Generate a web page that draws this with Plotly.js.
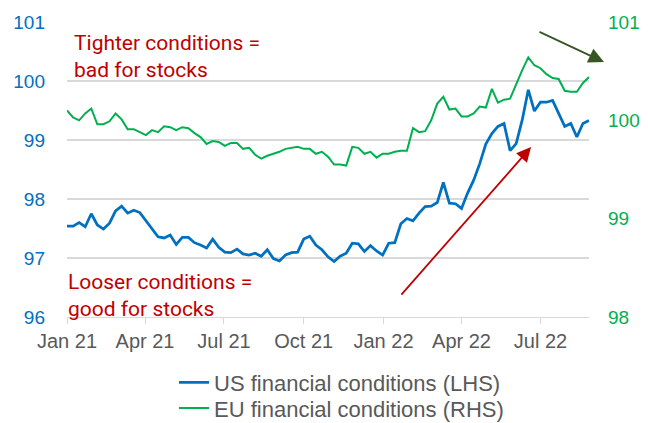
<!DOCTYPE html>
<html>
<head>
<meta charset="utf-8">
<script src="https://cdn.plot.ly/plotly-3.0.1.min.js"></script>
<style>html,body{margin:0;padding:0;background:#fff;}#chart{width:648px;height:423px;}</style>
</head>
<body>
<div id="chart"></div>
<script>
// Weekly observations (Fridays) starting 1 Jan 2021
var startDate = '2021-01-01';
var usFinancialConditions = [
  97.54, 97.54, 97.60, 97.53, 97.75, 97.56, 97.49, 97.59, 97.80, 97.88,
  97.76, 97.81, 97.77, 97.64, 97.49, 97.36, 97.34, 97.39, 97.23, 97.35,
  97.35, 97.26, 97.22, 97.17, 97.32, 97.18, 97.10, 97.09, 97.15, 97.07,
  97.05, 97.08, 97.03, 97.14, 96.99, 96.95, 97.05, 97.09, 97.10, 97.32,
  97.37, 97.22, 97.14, 97.02,
  96.94, 97.03, 97.08, 97.25, 97.24, 97.11, 97.21, 97.12, 97.05, 97.25,
  97.26, 97.58, 97.67, 97.63, 97.76, 97.87, 97.88, 97.94, 98.28, 97.93,
  97.92, 97.84, 98.10, 98.32, 98.60, 98.93, 99.11, 99.23, 99.28, 98.82,
  98.94, 99.34, 99.85, 99.49, 99.64, 99.64, 99.67, 99.45, 99.23, 99.28,
  99.05, 99.28, 99.33
];
var euFinancialConditions = [
  100.10, 100.03, 100.00, 100.07, 100.12, 99.96, 99.96, 99.99, 100.07, 100.01,
  99.91, 99.91, 99.88, 99.85, 99.90, 99.88, 99.94, 99.93, 99.90, 99.93,
  99.92, 99.87, 99.83, 99.76, 99.79, 99.78, 99.74, 99.77, 99.77, 99.71,
  99.72, 99.65, 99.61, 99.64, 99.66, 99.68, 99.71, 99.72, 99.73, 99.71,
  99.71, 99.66, 99.68, 99.63,
  99.55, 99.55, 99.54, 99.73, 99.72, 99.66, 99.68, 99.62, 99.66, 99.66,
  99.68, 99.69, 99.69, 99.92, 99.88, 99.89, 100.00, 100.17, 100.24, 100.11,
  100.12, 100.04, 100.04, 100.07, 100.14, 100.13, 100.32, 100.18, 100.21, 100.22,
  100.37, 100.51, 100.64, 100.56, 100.53, 100.47, 100.43, 100.42, 100.30, 100.29,
  100.29, 100.38, 100.44
];
var seriesNames = ['US financial conditions (LHS)', 'EU financial conditions (RHS)'];
var leftTicks = [96, 97, 98, 99, 100, 101];
var rightTicks = [98, 99, 100, 101];
var xTickLabels = ['Jan 21', 'Apr 21', 'Jul 21', 'Oct 21', 'Jan 22', 'Apr 22', 'Jul 22'];
var xTickDates = ['2021-01-01', '2021-04-01', '2021-07-01', '2021-10-01', '2022-01-01', '2022-04-01', '2022-07-01'];

function weeklyDates(start, n) {
  var out = [];
  var d0 = new Date(start + 'T00:00:00Z');
  for (var i = 0; i < n; i++) {
    var d = new Date(d0.getTime() + i * 7 * 86400000);
    out.push(d.toISOString().slice(0, 10));
  }
  return out;
}
var dates = weeklyDates(startDate, usFinancialConditions.length);

var traces = [
  {x: dates, y: usFinancialConditions, name: seriesNames[0], type: 'scatter', mode: 'lines',
   line: {color: '#0070C0', width: 2.75}, yaxis: 'y', legend: 'legend'},
  {x: dates, y: euFinancialConditions, name: seriesNames[1], type: 'scatter', mode: 'lines',
   line: {color: '#00B050', width: 2}, yaxis: 'y2', legend: 'legend2'}
];

var annFont = {family: 'Roboto, sans-serif', size: 21, color: '#C00000'};
var legFont = {family: 'Liberation Sans, Arial, sans-serif', size: 22, color: '#595959'};
var layout = {
  width: 648, height: 423,
  margin: {l: 67, r: 59, t: 22, b: 106, pad: 0, autoexpand: false},
  paper_bgcolor: '#ffffff', plot_bgcolor: '#ffffff',
  showlegend: true,
  xaxis: {
    type: 'date',
    range: [dates[0], dates[dates.length - 1]],
    tickvals: xTickDates, ticktext: xTickLabels,
    ticks: 'outside', ticklen: 6, tickcolor: '#D9D9D9', tickwidth: 1,
    showgrid: false, showline: true, linecolor: '#D9D9D9', linewidth: 1,
    zeroline: false,
    tickfont: {family: 'Liberation Sans, Arial, sans-serif', size: 20, color: '#595959'}
  },
  yaxis: {
    range: [96, 101], tickvals: leftTicks,
    showgrid: true, gridcolor: '#D9D9D9', gridwidth: 1.3,
    zeroline: false, showline: false, ticks: '',
    ticklabelstandoff: 21,
    tickfont: {family: 'Liberation Sans, Arial, sans-serif', size: 19, color: '#0070C0'}
  },
  yaxis2: {
    range: [98, 101], tickvals: rightTicks,
    overlaying: 'y', side: 'right',
    showgrid: false, zeroline: false, showline: false, ticks: '',
    ticklabelstandoff: 18,
    tickfont: {family: 'Liberation Sans, Arial, sans-serif', size: 19, color: '#00B050'}
  },
  legend: {
    orientation: 'v', x: 0.205, xanchor: 'left', y: -0.222, yanchor: 'middle',
    font: legFont, bgcolor: 'rgba(0,0,0,0)'
  },
  legend2: {
    orientation: 'v', x: 0.205, xanchor: 'left', y: -0.309, yanchor: 'middle',
    font: legFont, bgcolor: 'rgba(0,0,0,0)'
  },
  annotations: [
    {xref: 'paper', yref: 'paper', x: 0.01, y: 0.975, xanchor: 'left', yanchor: 'top', align: 'left',
     text: 'Tighter conditions =<br>bad for stocks', showarrow: false, font: annFont},
    {xref: 'paper', yref: 'paper', x: -0.002, y: 0.165, xanchor: 'left', yanchor: 'top', align: 'left',
     text: 'Looser conditions =<br>good for stocks', showarrow: false, font: annFont},
    {xref: 'paper', yref: 'paper', x: 0.889, y: 0.576, ax: -131, ay: 149, text: '',
     showarrow: true, arrowhead: 2, arrowsize: 1.6, arrowwidth: 1.8, arrowcolor: '#C00000'},
    {xref: 'paper', yref: 'paper', x: 1.0287, y: 0.864, ax: -66, ay: -31, text: '',
     showarrow: true, arrowhead: 2, arrowsize: 1.7, arrowwidth: 1.8, arrowcolor: '#375623'}
  ]
};

Plotly.newPlot('chart', traces, layout, {displayModeBar: false, staticPlot: true});
</script>
</body>
</html>
